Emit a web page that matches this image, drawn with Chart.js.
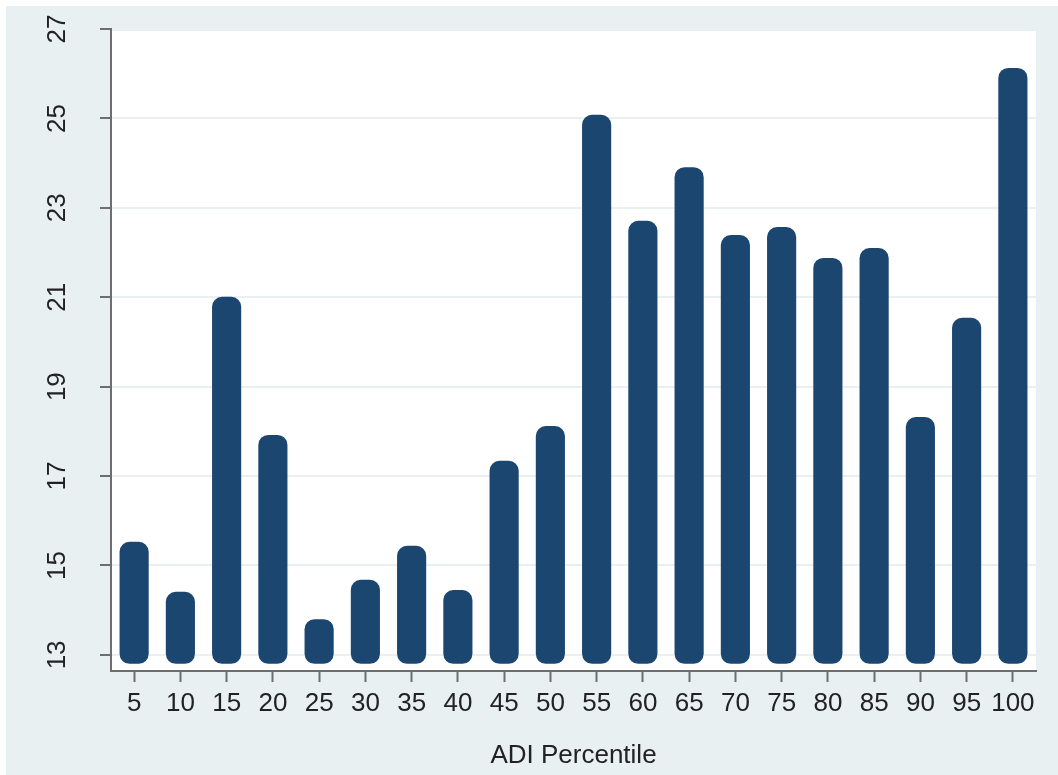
<!DOCTYPE html>
<html>
<head>
<meta charset="utf-8">
<script src="https://cdn.jsdelivr.net/npm/chart.js@4/dist/chart.umd.min.js"></script>
<style>
  html, body { margin: 0; padding: 0; background: #fff; }
  #wrap { width: 1058px; height: 775px; }
</style>
</head>
<body>
<div id="wrap"><canvas id="adiChart" width="1058" height="775"></canvas></div>
<script>
// --- data ---
const percentiles = ["5", "10", "15", "20", "25", "30", "35", "40", "45", "50",
  "55", "60", "65", "70", "75", "80", "85", "90", "95", "100"];
const values = [15.53, 14.41, 21.01, 17.92, 13.80, 14.68, 15.44, 14.45, 17.34, 18.12,
  25.08, 22.71, 23.91, 22.39, 22.57, 21.88, 22.10, 18.32, 20.54, 26.13];
const barBase = 12.8;
const yTicks = [13, 15, 17, 19, 21, 23, 25, 27];

const BG = "#e9f0f2";
const BAR = "#1b4670";
const AXIS = "#6e6e6e";
const FONT = "'Liberation Sans', Arial, Helvetica, sans-serif";

// paint the grey panel and the white plot region
const backdrop = {
  id: "backdrop",
  beforeDraw(chart) {
    const { ctx, chartArea: a } = chart;
    ctx.save();
    ctx.fillStyle = "#fff";
    ctx.fillRect(0, 0, chart.width, chart.height);
    ctx.fillStyle = BG;
    ctx.fillRect(6, 6, chart.width - 6, chart.height - 6);
    ctx.fillStyle = "#fff";
    ctx.fillRect(a.left, a.top + 2, a.right - a.left, a.bottom - a.top - 2);
    ctx.restore();
  },
  // rotated y tick labels
  afterDraw(chart) {
    const { ctx } = chart;
    const y = chart.scales.y;
    ctx.save();
    ctx.fillStyle = "#222";
    ctx.font = "26px " + FONT;
    ctx.textAlign = "center";
    ctx.textBaseline = "middle";
    yTicks.forEach((v) => {
      ctx.save();
      ctx.translate(58, y.getPixelForValue(v));
      ctx.rotate(-Math.PI / 2);
      ctx.fillText(String(v), 0, 0);
      ctx.restore();
    });
    ctx.restore();
  },
};

new Chart(document.getElementById("adiChart"), {
  type: "bar",
  data: {
    labels: percentiles,
    datasets: [
      {
        data: values.map((v) => [barBase, v]),
        backgroundColor: BAR,
        borderWidth: 0,
        borderRadius: 10,
        borderSkipped: false,
        barPercentage: 0.63,
        categoryPercentage: 1,
      },
    ],
  },
  options: {
    responsive: false,
    animation: false,
    devicePixelRatio: 1,
    layout: { padding: { left: 6, right: 22, top: 29, bottom: 0 } },
    plugins: { legend: { display: false }, tooltip: { enabled: false } },
    scales: {
      x: {
        offset: true,
        grid: {
          offset: false,
          drawOnChartArea: false,
          tickColor: AXIS,
          tickWidth: 2,
          tickLength: 11,
        },
        border: { color: AXIS, width: 2 },
        ticks: {
          color: "#222",
          font: { family: FONT, size: 26 },
          padding: 6,
          maxRotation: 0,
          autoSkip: false,
        },
        title: {
          display: true,
          text: "ADI Percentile",
          color: "#222",
          font: { family: FONT, size: 26 },
          padding: { top: 4, bottom: 4 },
        },
        afterFit: (s) => { s.height = 104; },
      },
      y: {
        min: 12.64,
        max: 27,
        afterBuildTicks: (s) => { s.ticks = yTicks.map((v) => ({ value: v })); },
        grid: {
          color: BG,
          lineWidth: 2,
          tickColor: AXIS,
          tickWidth: 2,
          tickLength: 11,
        },
        border: { color: AXIS, width: 2 },
        ticks: { display: false },
        afterFit: (s) => { s.width = 105; },
      },
    },
  },
  plugins: [backdrop],
});
</script>
</body>
</html>
